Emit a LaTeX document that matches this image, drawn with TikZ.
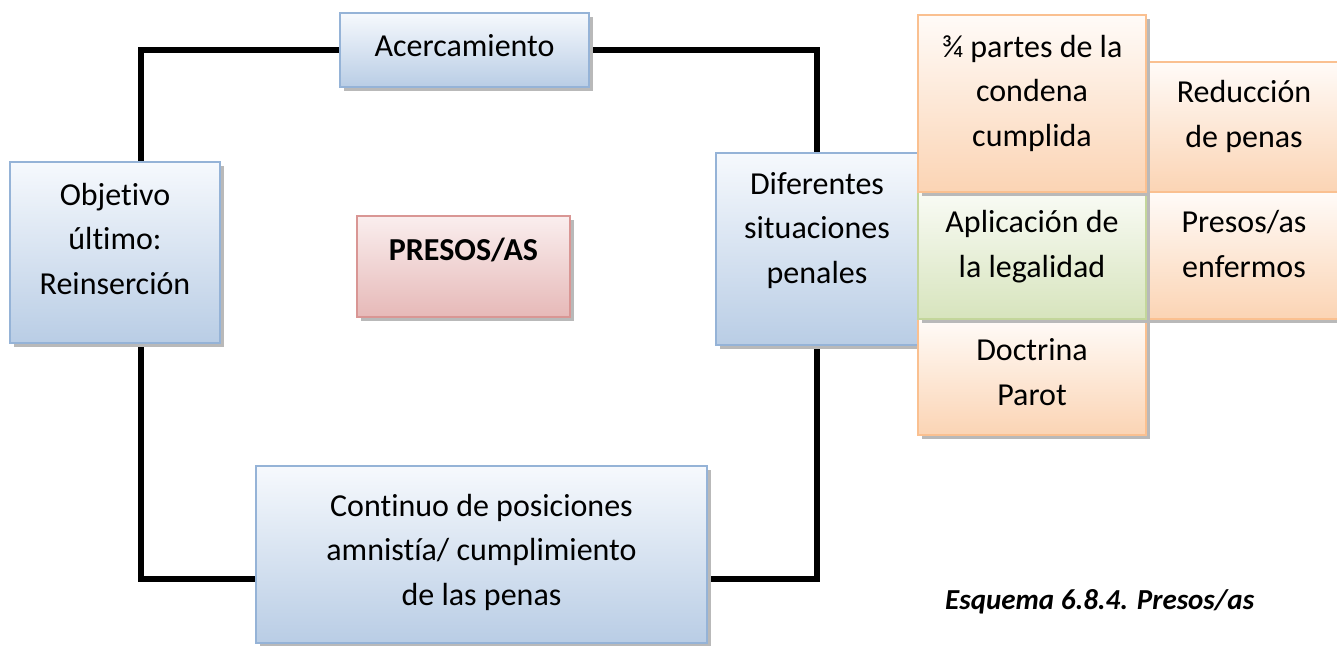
\documentclass[tikz,border=0pt]{standalone}
\usepackage{fontspec}
\setmainfont[Ligatures=NoCommon]{Carlito}
\usetikzlibrary{shadows}
\definecolor{bluedraw}{RGB}{149,179,215}
\definecolor{bluefill}{RGB}{185,205,229}
\definecolor{bluetop}{RGB}{246,249,253}
\definecolor{orangedraw}{RGB}{250,192,144}
\definecolor{orangefill}{RGB}{251,212,180}
\definecolor{orangetop}{RGB}{255,251,248}
\definecolor{greendraw}{RGB}{195,214,155}
\definecolor{greenfill}{RGB}{215,228,189}
\definecolor{greentop}{RGB}{249,251,245}
\definecolor{pinkdraw}{RGB}{217,150,148}
\definecolor{pinkfill}{RGB}{230,185,184}
\definecolor{pinktop}{RGB}{250,238,238}
\begin{document}
\begin{tikzpicture}[x=1pt,y=-1pt,
  box/.style={draw, line width=2.5pt, rectangle, inner sep=0pt,
    general shadow={fill=gray!55, shadow xshift=4pt, shadow yshift=-4pt}},
  bluebox/.style={box, draw=bluedraw, top color=bluetop, bottom color=bluefill},
  orangebox/.style={box, draw=orangedraw, top color=orangetop, bottom color=orangefill},
  greenbox/.style={box, draw=greendraw, top color=greentop, bottom color=greenfill},
  pinkbox/.style={box, draw=pinkdraw, top color=pinktop, bottom color=pinkfill},
  txt/.style={font=\fontsize{32}{44.5}\selectfont, align=center, inner sep=0pt, anchor=base},
  frame/.style={line width=6pt, black, line join=miter}]
\useasboundingbox (0,0) rectangle (1337,645);
% frame connector
\coordinate (tl) at (141,50);
\coordinate (br) at (817,579);
\draw[frame] (tl) rectangle (br);
% boxes
\node[bluebox, minimum width=249pt, minimum height=74pt] (acer) at (464.5,50) {};
\node[bluebox, minimum width=210pt, minimum height=181pt] (obj) at (115,252.5) {};
\node[pinkbox, minimum width=213pt, minimum height=101pt] (pres) at (463.5,266.5) {};
\node[bluebox, minimum width=451pt, minimum height=177pt] (cont) at (481.5,554.5) {};
\node[bluebox, minimum width=202pt, minimum height=192pt] (dif) at (817,249) {};
\node[orangebox, minimum width=204pt, minimum height=130pt] (red) at (1248,127) {};
\node[orangebox, minimum width=204pt, minimum height=127pt] (enf) at (1248,255.5) {};
\node[orangebox, minimum width=228pt, minimum height=116pt] (doc) at (1032,377) {};
\node[greenbox, minimum width=228pt, minimum height=127pt] (apl) at (1032,255.5) {};
\node[orangebox, minimum width=228pt, minimum height=177pt] (tres) at (1032,103.5) {};
% texts (anchor base = baseline of last line)
\node[txt] (acert) at (464.5,56) {Acercamiento};
\node[txt] (objt) at (115,294) {Objetivo\\último:\\Reinserción};
\node[txt, font=\fontsize{32}{44.5}\selectfont\bfseries] (prest) at (463.5,260) {PRESOS/AS};
\node[txt] (contt) at (481.5,605) {Continuo de posiciones\\amnistía/ cumplimiento\\de las penas};
\node[txt] (dift) at (817,283) {Diferentes\\situaciones\\penales};
\node[txt] (redt) at (1244,147) {Reducción\\de penas};
\node[txt] (enft) at (1244,277) {Presos/as\\enfermos};
\node[txt] (doct) at (1032,405) {Doctrina\\Parot};
\node[txt] (aplt) at (1032,277) {Aplicación de\\la legalidad};
\node[txt] (trest) at (1032,146) {¾ partes de la\\condena\\cumplida};
% caption
\node[inner sep=0pt, anchor=base west, font=\fontsize{29}{34}\selectfont\bfseries\itshape] (cap) at (945,609) {Esquema 6.8.4. Presos/as};
\end{tikzpicture}
\end{document}
